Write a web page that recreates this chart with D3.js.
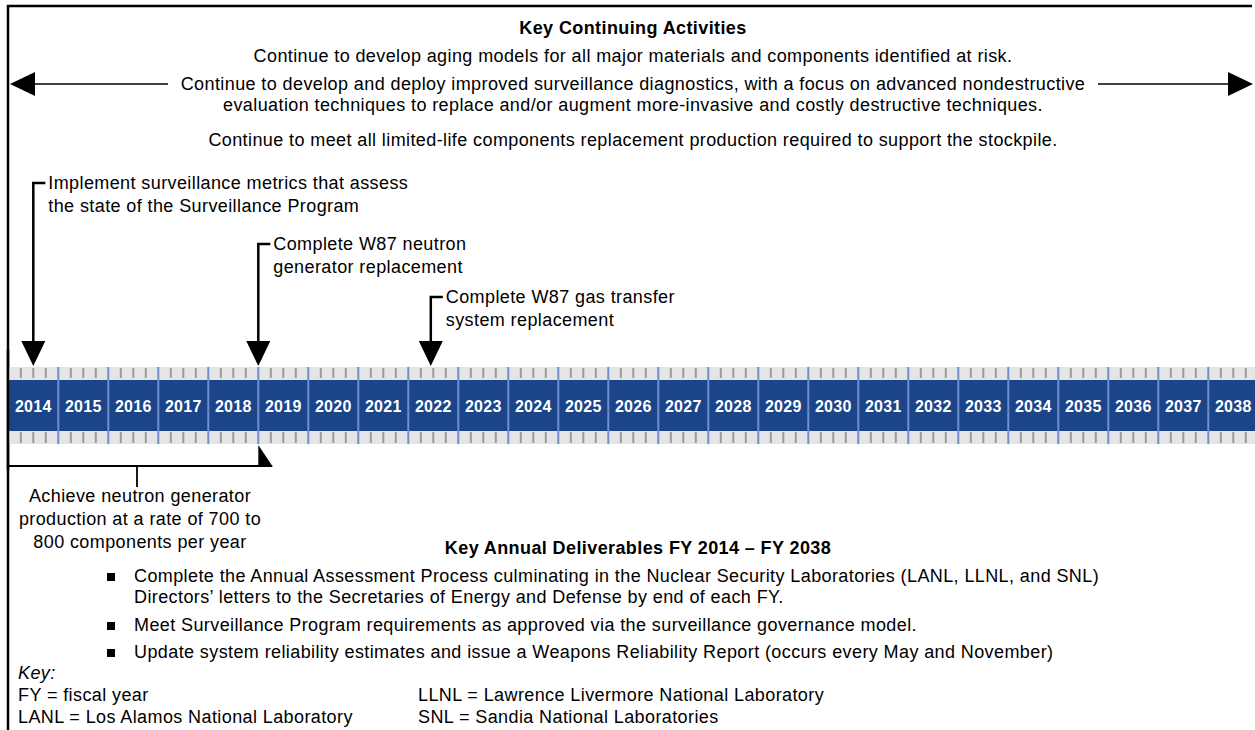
<!DOCTYPE html>
<html>
<head>
<meta charset="utf-8">
<script src="https://cdn.jsdelivr.net/npm/d3@7"></script>
<style>
  body { margin: 0; background: #fff; }
  svg { display: block; font-family: "Liberation Sans", Arial, sans-serif; }
  svg text { font-size: 18px; letter-spacing: 0.4px; }
</style>
</head>
<body>
<div id="chart"></div>
<script>
// data
const years = [2014, 2015, 2016, 2017, 2018, 2019, 2020, 2021, 2022, 2023, 2024, 2025, 2026,
               2027, 2028, 2029, 2030, 2031, 2032, 2033, 2034, 2035, 2036, 2037, 2038];
const quarters = [0.25, 0.5, 0.75];

const continuingTitle = "Key Continuing Activities";
const continuingLines = [
  "Continue to develop aging models for all major materials and components identified at risk.",
  "Continue to develop and deploy improved surveillance diagnostics, with a focus on advanced nondestructive",
  "evaluation techniques to replace and/or augment more-invasive and costly destructive techniques.",
  "Continue to meet all limited-life components replacement production required to support the stockpile."
];

// milestones above the timeline (time = where the arrow lands)
const milestoneTimes = [2014.5, 2019, 2022.45];
const milestoneText = [
  ["Implement surveillance metrics that assess", "the state of the Surveillance Program"],
  ["Complete W87 neutron", "generator replacement"],
  ["Complete W87 gas transfer", "system replacement"]
];

// span below the timeline
const spanStart = 2014, spanEnd = 2019;
const spanText = ["Achieve neutron generator", "production at a rate of 700 to", "800 components per year"];

const deliverablesTitle = "Key Annual Deliverables FY 2014 \u2013 FY 2038";
const deliverables = [
  ["Complete the Annual Assessment Process culminating in the Nuclear Security Laboratories (LANL, LLNL, and SNL)",
   "Directors\u2019 letters to the Secretaries of Energy and Defense by end of each FY."],
  ["Meet Surveillance Program requirements as approved via the surveillance governance model."],
  ["Update system reliability estimates and issue a Weapons Reliability Report (occurs every May and November)"]
];

const keyLeft = ["FY = fiscal year", "LANL = Los Alamos National Laboratory"];
const keyRight = ["LLNL = Lawrence Livermore National Laboratory", "SNL = Sandia National Laboratories"];

/////////////////////////
// setup
/////////////////////////
const W = 1255, H = 730;
const svg = d3.select("#chart").append("svg")
  .attr("width", W).attr("height", H);

const x = d3.scaleLinear()
  .domain([2014, 2039])
  .range([8.3, 1258.3]);

const band = {top: 367, blueTop: 380, blueBot: 431, bot: 444};

const navy = "#1c4489", divider = "#6e8fcf", grey = "#e5e5e5", tick = "#9a9a9a";

// frame: top and left edges
svg.append("path")
  .attr("d", "M8,730 V6 H1252")
  .attr("fill", "none")
  .attr("stroke", "#000")
  .attr("stroke-width", 2.5);

/////////////////////////
// continuing activities
/////////////////////////
svg.append("text")
  .attr("x", 633).attr("y", 34)
  .attr("text-anchor", "middle")
  .style("font-weight", "bold")
  .text(continuingTitle);

const lineY = [62, 90, 111, 146];
svg.selectAll("text.cont")
  .data(continuingLines)
  .join("text")
  .attr("class", "cont")
  .attr("x", 633)
  .attr("y", (d, i) => lineY[i])
  .attr("text-anchor", "middle")
  .text(d => d);

// double headed arrow around second line
svg.append("line").attr("x1", 30).attr("x2", 168).attr("y1", 84).attr("y2", 84)
  .attr("stroke", "#000").attr("stroke-width", 1.5);
svg.append("line").attr("x1", 1098).attr("x2", 1232).attr("y1", 84).attr("y2", 84)
  .attr("stroke", "#000").attr("stroke-width", 1.5);
svg.append("path").attr("d", "M10,84 L35,72 L35,96 Z").attr("fill", "#000");
svg.append("path").attr("d", "M1253,84 L1228,72 L1228,96 Z").attr("fill", "#000");

/////////////////////////
// timeline band
/////////////////////////
const tl = svg.append("g");
tl.append("rect")
  .attr("x", x(2014)).attr("y", band.top)
  .attr("width", x(2039) - x(2014)).attr("height", band.bot - band.top)
  .attr("fill", grey);
tl.append("rect")
  .attr("x", x(2014)).attr("y", band.blueTop)
  .attr("width", x(2039) - x(2014)).attr("height", band.blueBot - band.blueTop)
  .attr("fill", navy);

// quarter ticks in the grey strips
const qt = [];
years.forEach(y => quarters.forEach(q => qt.push(y + q)));
tl.selectAll("line.qtop")
  .data(qt).join("line")
  .attr("class", "qtop")
  .attr("x1", d => x(d)).attr("x2", d => x(d))
  .attr("y1", band.top + 1).attr("y2", band.blueTop - 2)
  .attr("stroke", tick).attr("stroke-width", 2);
tl.selectAll("line.qbot")
  .data(qt).join("line")
  .attr("class", "qbot")
  .attr("x1", d => x(d)).attr("x2", d => x(d))
  .attr("y1", band.blueBot + 1).attr("y2", band.bot - 1)
  .attr("stroke", tick).attr("stroke-width", 2);

// year dividers
tl.selectAll("line.div")
  .data(years.slice(1)).join("line")
  .attr("class", "div")
  .attr("x1", d => x(d)).attr("x2", d => x(d))
  .attr("y1", band.top).attr("y2", band.bot)
  .attr("stroke", divider).attr("stroke-width", 2);

tl.selectAll("text.yr")
  .data(years).join("text")
  .attr("class", "yr")
  .attr("x", d => x(d + 0.5))
  .attr("y", 411.5)
  .attr("text-anchor", "middle")
  .attr("fill", "#fff")
  .style("font-size", "16px").style("font-weight", "bold")
  .style("letter-spacing", "0.3px")
  .text(d => d);

// left frame over band
svg.append("line").attr("x1", 8).attr("x2", 8).attr("y1", 350).attr("y2", 470)
  .attr("stroke", "#000").attr("stroke-width", 2.5);

/////////////////////////
// milestones
/////////////////////////
const elbowY = [183, 244, 297];
const ms = svg.selectAll("g.ms")
  .data(milestoneTimes).join("g")
  .attr("class", "ms");

ms.append("path")
  .attr("d", (d, i) => `M${x(d) + 12},${elbowY[i]} H${x(d)} V${band.top - 24}`)
  .attr("fill", "none")
  .attr("stroke", "#000")
  .attr("stroke-width", 2.5);
ms.append("path")
  .attr("d", d => `M${x(d)},${band.top - 1} L${x(d) - 12},${band.top - 26} L${x(d) + 12},${band.top - 26} Z`)
  .attr("fill", "#000");
ms.each(function(d, i) {
  const t = d3.select(this).append("text")
    .attr("x", x(d) + 15)
    .attr("y", elbowY[i] + 6);
  t.selectAll("tspan")
    .data(milestoneText[i]).join("tspan")
    .attr("x", x(d) + 15)
    .attr("dy", (s, j) => j ? 22.5 : 0)
    .text(s => s);
});

/////////////////////////
// span below the band
/////////////////////////
const spanY = 466;
svg.append("line")
  .attr("x1", x(spanStart)).attr("x2", x(spanEnd) + 14)
  .attr("y1", spanY).attr("y2", spanY)
  .attr("stroke", "#000").attr("stroke-width", 2);
svg.append("path")
  .attr("d", `M${x(spanEnd)},${band.bot + 1} L${x(spanEnd) + 14},${spanY} L${x(spanEnd)},${spanY} Z`)
  .attr("fill", "#000");
const spanMid = 137;
svg.append("line")
  .attr("x1", spanMid).attr("x2", spanMid)
  .attr("y1", spanY).attr("y2", 487)
  .attr("stroke", "#000").attr("stroke-width", 1.8);
svg.selectAll("text.span")
  .data(spanText).join("text")
  .attr("class", "span")
  .attr("x", 140)
  .attr("y", (d, i) => 502 + i * 23)
  .attr("text-anchor", "middle")
  .text(d => d);

/////////////////////////
// annual deliverables
/////////////////////////
svg.append("text")
  .attr("x", 638).attr("y", 554)
  .attr("text-anchor", "middle")
  .style("font-weight", "bold")
  .text(deliverablesTitle);

const bulletY = [582, 631, 658];
deliverables.forEach((lines, i) => {
  svg.append("rect")
    .attr("x", 107).attr("y", bulletY[i] - 9)
    .attr("width", 8).attr("height", 8)
    .attr("fill", "#000");
  lines.forEach((s, j) => {
    svg.append("text")
      .attr("x", 134).attr("y", bulletY[i] + j * 21)
      .text(s);
  });
});

/////////////////////////
// key
/////////////////////////
svg.append("text")
  .attr("x", 18).attr("y", 679)
  .style("font-style", "italic")
  .text("Key:");
keyLeft.forEach((s, i) => {
  svg.append("text").attr("x", 18).attr("y", 701 + i * 22).text(s);
});
keyRight.forEach((s, i) => {
  svg.append("text").attr("x", 418).attr("y", 701 + i * 22).text(s);
});
</script>
</body>
</html>
